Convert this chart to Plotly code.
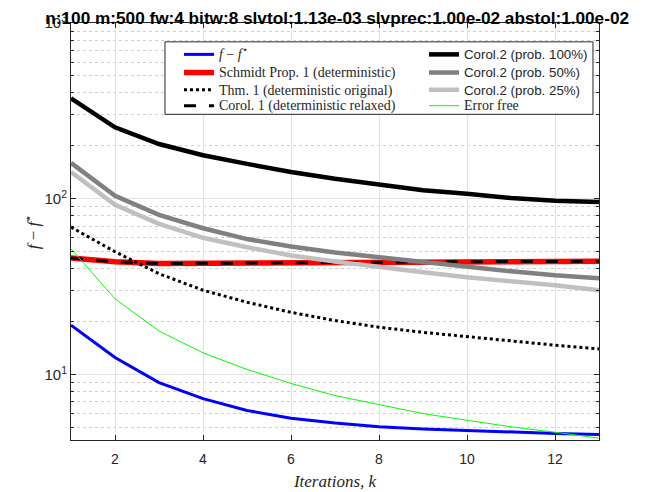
import plotly.graph_objects as go

k = list(range(1, 14))

f_gap = [19.1, 12.5, 9.0, 7.3, 6.25, 5.65, 5.3, 5.05, 4.9, 4.8, 4.7, 4.63, 4.57]
schmidt = [46.0, 43.8, 42.8, 43.0, 43.2, 43.4, 43.6, 43.7, 43.8, 43.9, 44.0, 44.0, 44.1]
thm1 = [69.0, 50.0, 37.5, 30.2, 25.8, 22.6, 20.3, 18.6, 17.4, 16.4, 15.5, 14.7, 14.0]
corol1 = [46.0, 43.8, 42.8, 43.0, 43.2, 43.4, 43.6, 43.7, 43.8, 43.9, 44.0, 44.0, 44.1]
corol2_100 = [373, 255, 205, 177, 158, 142, 130, 120, 112, 107, 101, 97.5, 96]
corol2_50 = [160, 104, 81, 68, 59, 53.5, 49.5, 46.4, 43.5, 40.7, 38.7, 36.7, 35.3]
corol2_25 = [142, 92.5, 72, 60, 53, 47.6, 44, 40.7, 38.2, 35.8, 34.0, 32.2, 30.2]
error_free = [52, 27, 17.7, 13.3, 10.7, 8.9, 7.6, 6.75, 6.0, 5.5, 5.05, 4.7, 4.35]

serif = "font-family:'Liberation Serif','DejaVu Serif',serif;font-size:14px"
sans = "font-family:'Liberation Sans',Arial,sans-serif;font-size:13.3px"

series = [
    (f_gap, f"<span style=\"{serif}\"><i>f</i> − <i>f</i><sup>⋆</sup></span>", "#0000ff", 3, "solid"),
    (schmidt, f"<span style=\"{serif}\">Schmidt Prop. 1 (deterministic)</span>", "#ff0000", 5.5, "solid"),
    (thm1, f"<span style=\"{serif}\">Thm. 1 (deterministic original)</span>", "#000000", 3, "3px,3px"),
    (corol1, f"<span style=\"{serif}\">Corol. 1 (deterministic relaxed)</span>", "#000000", 3, "12px,13px"),
    (corol2_100, f"<span style=\"{sans}\">Corol.2 (prob. 100%)</span>", "#000000", 4.5, "solid"),
    (corol2_50, f"<span style=\"{sans}\">Corol.2 (prob. 50%)</span>", "#808080", 4.5, "solid"),
    (corol2_25, f"<span style=\"{sans}\">Corol.2 (prob. 25%)</span>", "#c0c0c0", 4.5, "solid"),
    (error_free, f"<span style=\"{serif}\">Error free</span>", "#00ff00", 1, "solid"),
]

# legend slots: (x, y) in paper coords, one legend per entry
col_x = [0.2045, 0.6686]
row_y = [0.9595, 0.916, 0.8745, 0.8364]

fig = go.Figure()
legend_layout = {}
for i, (vals, name, color, width, dash) in enumerate(series):
    lname = "legend" if i == 0 else f"legend{i + 1}"
    fig.add_trace(go.Scatter(x=k, y=vals, mode="lines", name=name,
                             line=dict(color=color, width=width, dash=dash),
                             legend=lname))
    legend_layout[lname] = dict(x=col_x[i // 4], y=row_y[i % 4], xanchor="left", yanchor="top",
                                bgcolor="rgba(0,0,0,0)", borderwidth=0, itemwidth=30,
                                font=dict(size=12, color="#262626"))

minor_vals = [m * 10 ** e for e in range(0, 3) for m in range(2, 10) if 4 <= m * 10 ** e <= 1000]

fig.update_layout(
    width=665, height=492,
    margin=dict(l=63, r=74, t=14.5, b=60, autoexpand=False),
    paper_bgcolor="white", plot_bgcolor="white",
    font=dict(family="Liberation Sans, Arial, sans-serif", color="#262626"),
    title=dict(text="<b>n:100 m:500 fw:4 bitw:8 slvtol:1.13e-03 slvprec:1.00e-02 abstol:1.00e-02</b>",
               x=0.495, xanchor="center", y=0.992, yanchor="top", pad=dict(t=0, b=0, l=0, r=0),
               font=dict(size=17.2, color="#000000", family="Liberation Sans, Arial, sans-serif")),
    shapes=[dict(type="rect", xref="paper", yref="paper", x0=0.178, x1=0.9886, y0=0.781, y1=0.9548,
                 line=dict(color="#262626", width=1), fillcolor="white", layer="above")],
    showlegend=True,
    **legend_layout,
)

fig.update_xaxes(
    range=[1, 13], tickvals=[2, 4, 6, 8, 10, 12], ticks="inside", ticklen=5,
    tickcolor="#262626", showline=True, linecolor="#262626", linewidth=1, mirror="ticks",
    showgrid=True, gridcolor="#e3e3e3", gridwidth=1, zeroline=False, automargin=False,
    tickfont=dict(size=14, color="#262626"), ticklabelstandoff=6,
    title=dict(text="<i>Iterations, k</i>", standoff=9,
               font=dict(size=17, family="Liberation Serif, DejaVu Serif, serif", color="#262626")),
)

fig.update_yaxes(
    type="log", range=[0.628, 3],
    tickvals=[10, 100, 1000], ticktext=["10<sup>1</sup>", "10<sup>2</sup>", "10<sup>3</sup>"],
    ticks="inside", ticklen=5, tickcolor="#262626",
    showline=True, linecolor="#262626", linewidth=1, mirror="ticks",
    showgrid=True, gridcolor="#e3e3e3", gridwidth=1, zeroline=False, automargin=False,
    tickfont=dict(size=15, color="#262626"),
    minor=dict(tickvals=minor_vals, ticks="inside", ticklen=3, tickcolor="#262626",
               showgrid=True, gridcolor="#cfcfcf", griddash="dot", gridwidth=1),
    title=dict(text="<i>f</i> − <i>f</i><sup>⋆</sup>", standoff=0,
               font=dict(size=17, family="Liberation Serif, DejaVu Serif, serif", color="#262626")),
)

fig.write_html("out.html")
